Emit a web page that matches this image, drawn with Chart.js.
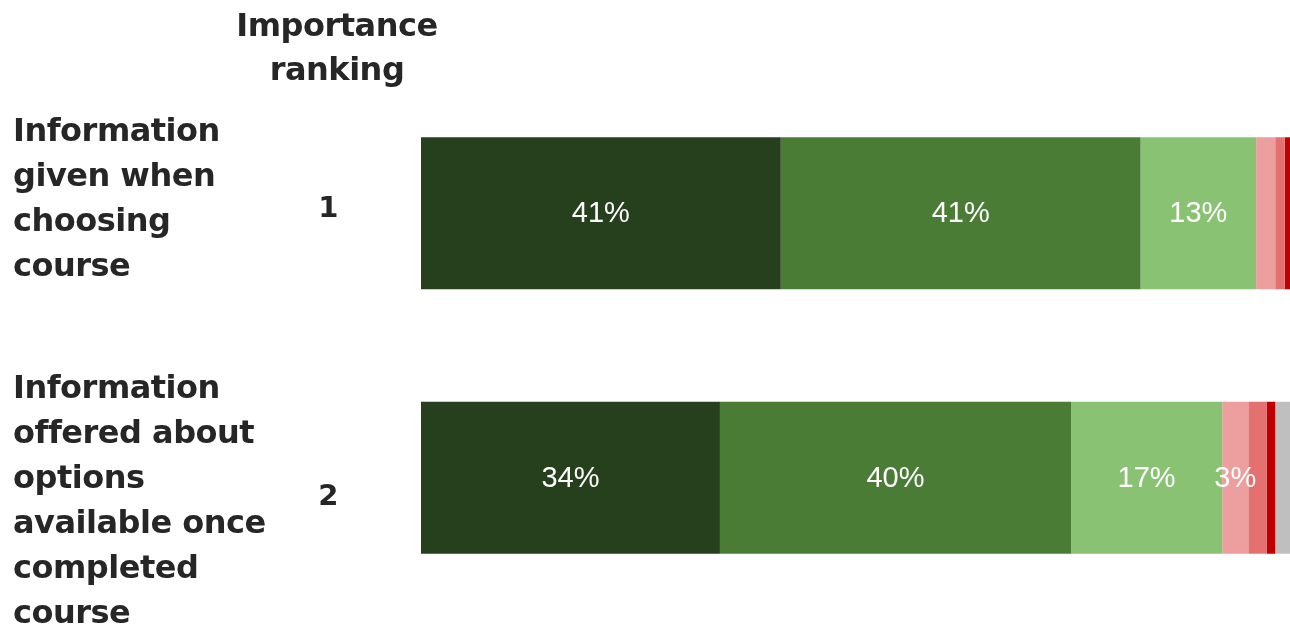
<!DOCTYPE html>
<html>
<head>
<meta charset="utf-8">
<script src="https://cdn.jsdelivr.net/npm/chart.js@4/dist/chart.umd.min.js"></script>
<style>
  html, body { margin: 0; padding: 0; background: #fff; }
  #wrap { width: 1290px; height: 630px; position: relative; }
</style>
</head>
<body>
<div id="wrap"><canvas id="chart"></canvas></div>
<script>
// categories and ranks
var categories = [
    ['Information', 'given when', 'choosing', 'course'],
    ['Information', 'offered about', 'options', 'available once', 'completed', 'course']
];
var ranks = ['1', '2'];

// series values (percent)
var veryGood   = [41.4, 34.4];
var good       = [41.4, 40.4];
var fair       = [13.3, 17.4];
var poor       = [2.2, 3.0];
var veryPoor   = [1.1, 2.1];
var worst      = [0.6, 1.0];
var dontKnow   = [0.0, 1.7];

var seriesColours = ['#263f1d', '#4a7c36', '#8ac274', '#ed9f9f', '#e47070', '#c00000', '#bfbfbf'];
var textColour = '#262626';
var labelShift = [-13, 24];
var boldFont = '"DejaVu Sans", "Liberation Sans", sans-serif';

var sideText = {
    id: 'sideText',
    afterDraw: function(chart){
        var ctx = chart.ctx;
        var y = chart.scales.y;
        ctx.save();
        ctx.fillStyle = textColour;
        ctx.textBaseline = 'middle';
        ctx.letterSpacing = '-0.5px';

        // header
        ctx.textAlign = 'center';
        ctx.font = 'bold 32px ' + boldFont;
        ctx.fillText('Importance', 337, 28);
        ctx.fillText('ranking', 337, 72);

        categories.forEach(function(lines, i){
            var cy = y.getPixelForValue(i);
            // rank
            ctx.textAlign = 'center';
            ctx.font = 'bold 29px ' + boldFont;
            ctx.fillText(ranks[i], 328, cy - 4 + (i === 1 ? 24 : 0));
            // category text
            ctx.textAlign = 'left';
            ctx.font = 'bold 32px ' + boldFont;
            var lh = 45;
            var start = cy - (lines.length - 1) * lh / 2 + labelShift[i];
            lines.forEach(function(t, k){
                ctx.fillText(t, 13, start + k * lh);
            });
        });
        ctx.restore();
    }
};

var valueLabels = {
    id: 'valueLabels',
    afterDatasetsDraw: function(chart){
        var ctx = chart.ctx;
        ctx.save();
        ctx.fillStyle = '#ffffff';
        ctx.font = '29px "Liberation Sans", Arial, sans-serif';
        ctx.textAlign = 'center';
        ctx.textBaseline = 'middle';
        chart.data.datasets.forEach(function(ds, di){
            var meta = chart.getDatasetMeta(di);
            meta.data.forEach(function(bar, i){
                var v = ds.data[i];
                if (Math.round(v) < 3) return;
                var cx = (bar.x + bar.base) / 2;
                ctx.fillText(Math.round(v) + '%', cx, bar.y + 1);
            });
        });
        ctx.restore();
    }
};

var ctx = document.getElementById('chart').getContext('2d');
new Chart(ctx, {
    type: 'bar',
    data: {
        labels: categories.map(function(c){ return c.join(' '); }),
        datasets: [
            { label: 'Very good', data: veryGood },
            { label: 'Good', data: good },
            { label: 'Fair', data: fair },
            { label: 'Poor', data: poor },
            { label: 'Very poor', data: veryPoor },
            { label: 'Worst', data: worst },
            { label: "Don't know", data: dontKnow }
        ].map(function(ds, i){
            ds.backgroundColor = seriesColours[i];
            ds.borderWidth = 0;
            ds.categoryPercentage = 1;
            ds.barPercentage = 0.575;
            return ds;
        })
    },
    options: {
        indexAxis: 'y',
        responsive: true,
        maintainAspectRatio: false,
        animation: false,
        layout: { padding: { left: 421, right: 0, top: 81, bottom: 20 } },
        plugins: { legend: { display: false }, tooltip: { enabled: false } },
        scales: {
            x: { stacked: true, min: 0, max: 100, display: false },
            y: { stacked: true, display: false }
        }
    },
    plugins: [valueLabels, sideText]
});
</script>
</body>
</html>
